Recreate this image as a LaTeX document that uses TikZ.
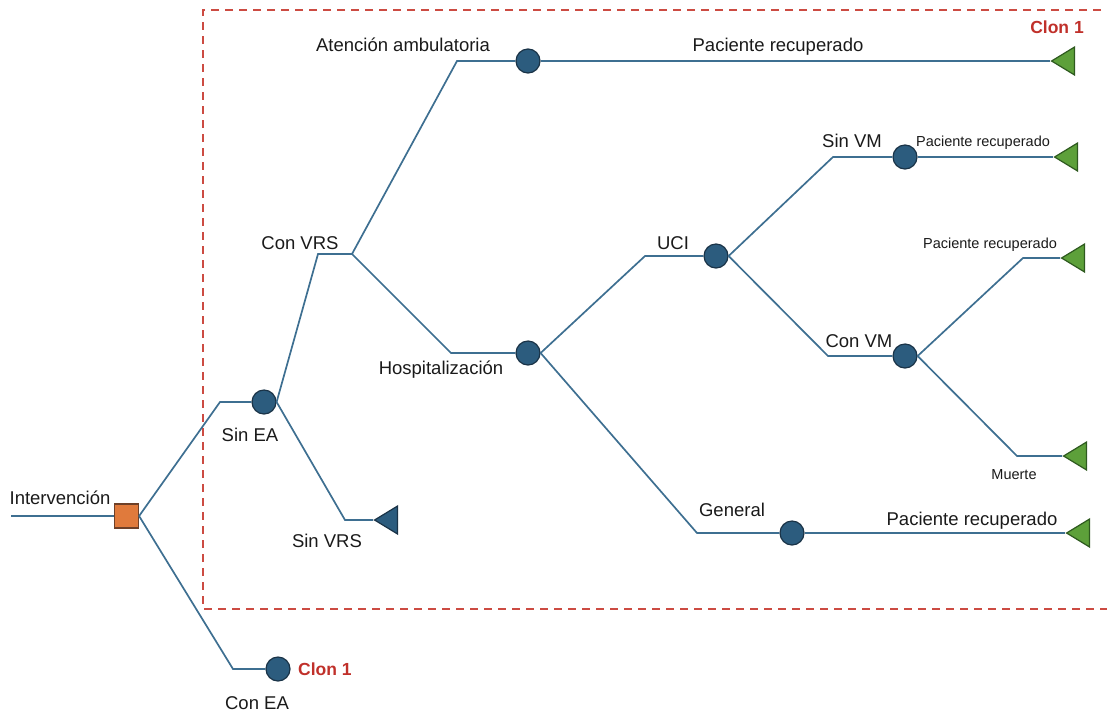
\documentclass[tikz,border=0pt]{standalone}
\usepackage{fontspec}
\setmainfont{Liberation Sans}
\usetikzlibrary{shapes.geometric}

\definecolor{branch}{HTML}{3E6F91}
\definecolor{chancefill}{HTML}{2C5C7E}
\definecolor{chanceedge}{HTML}{1A3347}
\definecolor{decfill}{HTML}{E07A3C}
\definecolor{decedge}{HTML}{6E4028}
\definecolor{termfill}{HTML}{5DA03A}
\definecolor{termedge}{HTML}{2E5A1F}
\definecolor{clonred}{HTML}{C0302A}
\definecolor{frame}{HTML}{CC4B42}
\definecolor{ink}{HTML}{1A1A1A}

\tikzset{
  chance/.style={circle, draw=chanceedge, fill=chancefill, line width=1.2pt,
    minimum size=24pt, inner sep=0pt},
  decision/.style={rectangle, draw=decedge, fill=decfill, line width=1.2pt,
    minimum size=24pt, inner sep=0pt},
  endtri/.style={isosceles triangle, shape border rotate=180,
    isosceles triangle stretches, minimum width=28pt, minimum height=23pt,
    inner sep=0pt, draw=termedge, fill=termfill, line width=1.2pt, anchor=apex},
  bluetri/.style={endtri, draw=chanceedge, fill=chancefill},
  branchline/.style={draw=branch, line width=1.7pt},
  lbl/.style={font=\fontsize{18.5}{22}\selectfont, text=ink, inner sep=0pt},
  slbl/.style={font=\fontsize{14.5}{17}\selectfont, text=ink, inner sep=0pt},
  clon/.style={font=\fontsize{17.5}{21}\selectfont\bfseries, text=clonred, inner sep=0pt},
  clonebox/.style={draw=frame, line width=2pt, dash pattern=on 8pt off 6pt},
}

\begin{document}
\begin{tikzpicture}[x=1pt, y=-1pt]
\useasboundingbox (0,0) rectangle (1107,713);

% clone frame, open on the right
\draw[clonebox] (1115,10) -- (203,10) -- (203,609) -- (1115,609);

% decision, chance and terminal nodes
\coordinate (start) at (11,516);
\node[decision] (dec) at (126.5,516) {};
\node[chance] (sinea) at (264,402) {};
\node[chance] (conea) at (278,669) {};
\coordinate (vrs) at (352,254);
\node[bluetri] (tsinvrs) at (373,520) {};
\node[chance] (amb) at (528,61) {};
\node[chance] (hosp) at (528,353) {};
\node[chance] (uci) at (716,256) {};
\node[chance] (gen) at (792,533) {};
\node[chance] (sinvm) at (905,157) {};
\node[chance] (convm) at (905,356) {};
\node[endtri] (tamb) at (1050,61) {};
\node[endtri] (tsinvm) at (1053,157) {};
\node[endtri] (tconvm) at (1060,258) {};
\node[endtri] (tmuerte) at (1062,456) {};
\node[endtri] (tgen) at (1065,533) {};

% elbow points
\coordinate (e1) at (220,402);
\coordinate (e2) at (233,669);
\coordinate (e3) at (318,254);
\coordinate (e4) at (345,520);
\coordinate (e5) at (457,61);
\coordinate (e6) at (451,353);
\coordinate (e7) at (645,256);
\coordinate (e8) at (697,533);
\coordinate (e9) at (833,157);
\coordinate (e10) at (828,356);
\coordinate (e11) at (1023,258);
\coordinate (e12) at (1017,456);

% branches
\draw[branchline] (start) -- (dec);
\draw[branchline] (dec.east) -- (e1) -- (sinea);
\draw[branchline] (dec.east) -- (e2) -- (conea);
\draw[branchline] (sinea.east) -- (e3) -- (vrs);
\draw[branchline] (sinea.east) -- (e4) -- (tsinvrs.apex);
\draw[branchline] (vrs) -- (e5) -- (amb);
\draw[branchline] (vrs) -- (e6) -- (hosp);
\draw[branchline] (amb) -- (tamb.apex);
\draw[branchline] (hosp.east) -- (e7) -- (uci);
\draw[branchline] (hosp.east) -- (e8) -- (gen);
\draw[branchline] (gen) -- (tgen.apex);
\draw[branchline] (uci.east) -- (e9) -- (sinvm);
\draw[branchline] (uci.east) -- (e10) -- (convm);
\draw[branchline] (sinvm) -- (tsinvm.apex);
\draw[branchline] (convm.east) -- (e11) -- (tconvm.apex);
\draw[branchline] (convm.east) -- (e12) -- (tmuerte.apex);

% labels
\node[lbl] (lint) at (60,498) {Intervención};
\node[lbl] (lsinea) at (250,435) {Sin EA};
\node[lbl] (lconea) at (257,703) {Con EA};
\node[clon, anchor=west] (lclon) at (298,669) {Clon 1};
\node[clon] (lclontop) at (1057,27) {Clon 1};
\node[lbl] (lconvrs) at (300,243) {Con VRS};
\node[lbl] (lsinvrs) at (327,541) {Sin VRS};
\node[lbl] (lamb) at (403,45) {Atención ambulatoria};
\node[lbl] (lrec1) at (778,47) {Paciente recuperado};
\node[lbl] (lhosp) at (441,370) {Hospitalización};
\node[lbl] (luci) at (673,243) {UCI};
\node[lbl] (lgen) at (732,510) {General};
\node[lbl] (lrec2) at (972,521) {Paciente recuperado};
\node[lbl] (lsinvm) at (852,141) {Sin VM};
\node[slbl] (lrec3) at (983,143) {Paciente recuperado};
\node[lbl] (lconvm) at (859,341) {Con VM};
\node[slbl] (lrec4) at (990,245) {Paciente recuperado};
\node[slbl] (lmuerte) at (1014,475) {Muerte};
\end{tikzpicture}
\end{document}
